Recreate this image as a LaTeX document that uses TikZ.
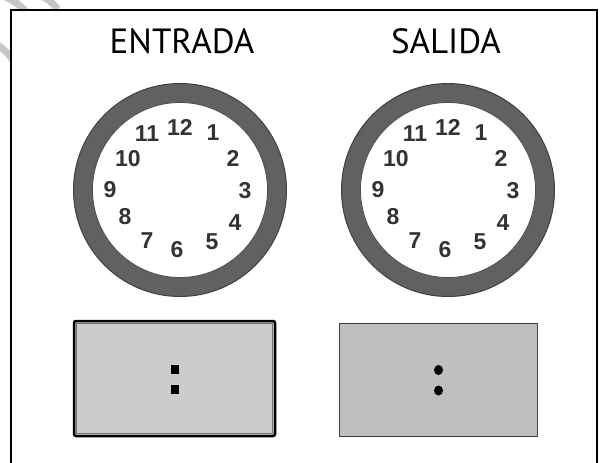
\documentclass[tikz,border=0pt]{standalone}
\usepackage{fontspec}
\setmainfont{PT Sans}
\newfontfamily\digitfont{Liberation Sans}
\usetikzlibrary{shapes.geometric}
\begin{document}
\begin{tikzpicture}[
	x = 1pt, y = -1pt,
	frame/.style = {line width = 2.2pt, black},
	swirl/.style = {line width = 7pt, gray!45},
	title/.style = {anchor = base, inner sep = 0pt, font = \fontsize{35}{40}\selectfont},
	ring/.style = {circle, draw = black!75, line width = 1pt, fill = black!62, minimum size = 213pt, inner sep = 0pt},
	face/.style = {circle, draw = black!70, line width = 0.8pt, fill = white, minimum size = 175pt, inner sep = 0pt},
	hour/.style = {inner sep = 0pt, text = black!80, font = \digitfont\bfseries\fontsize{23}{23}\selectfont},
	inbox/.style = {draw = black, line width = 2.5pt, rounded corners = 2pt, fill = black!20, minimum width = 201pt, minimum height = 115pt, inner sep = 0pt},
	outbox/.style = {draw = black!75, line width = 1.5pt, fill = black!25, minimum width = 198pt, minimum height = 113pt, inner sep = 0pt},
	sqdot/.style = {fill = black, minimum width = 8pt, minimum height = 9pt, inner sep = 0pt},
	rddot/.style = {ellipse, fill = black, minimum width = 9pt, minimum height = 10pt, inner sep = 0pt}
	]
	\useasboundingbox (0,0) rectangle (603,463);
	
	% swirls behind the frame
	\draw[swirl] (4,-4) .. controls (14,1) and (22,6) .. (30,16);
	\draw[swirl] (42,-4) .. controls (49,0) .. (58,9);
	\draw[swirl] (-4,44) .. controls (4,49) and (9,54) .. (15,63);
	\fill[white] (11,10) rectangle (597,470);
	\draw[frame] (11,470) -- (11,10) -- (597,10) -- (597,470);
	
	\node[title] (entradatitle) at (182,53) {ENTRADA};
	\node[title] (salidatitle) at (446,53) {SALIDA};
	
	\begin{scope}[shift={(180,190)}]
	\node[ring] (entradaclock) at (0,0) {};
	\node[face] (entradaface) at (entradaclock.center) {};
	\node[hour] (e12) at (0,-63) {12};
	\node[hour] (e1) at (33,-57) {1};
	\node[hour] (e2) at (53,-32) {2};
	\node[hour] (e3) at (65,1) {3};
	\node[hour] (e4) at (55,33) {4};
	\node[hour] (e5) at (32,52) {5};
	\node[hour] (e6) at (-3,60) {6};
	\node[hour] (e7) at (-33,51) {7};
	\node[hour] (e8) at (-55,27) {8};
	\node[hour] (e9) at (-70,0) {9};
	\node[hour] (e10) at (-52,-31) {10};
	\node[hour] (e11) at (-33,-56) {11};
	\end{scope}
	
	\begin{scope}[shift={(448,190)}]
	\node[ring] (salidaclock) at (0,0) {};
	\node[face] (salidaface) at (salidaclock.center) {};
	\node[hour] (s12) at (0,-63) {12};
	\node[hour] (s1) at (33,-57) {1};
	\node[hour] (s2) at (53,-32) {2};
	\node[hour] (s3) at (65,1) {3};
	\node[hour] (s4) at (55,33) {4};
	\node[hour] (s5) at (32,52) {5};
	\node[hour] (s6) at (-3,60) {6};
	\node[hour] (s7) at (-33,51) {7};
	\node[hour] (s8) at (-55,27) {8};
	\node[hour] (s9) at (-70,0) {9};
	\node[hour] (s10) at (-52,-31) {10};
	\node[hour] (s11) at (-33,-56) {11};
	\end{scope}
	
	\node[inbox] (entradabox) at (174.5,378.5) {};
	\draw[black!55, line width = 1pt] ([shift={(4,4)}]entradabox.north west) rectangle ([shift={(-4,-4)}]entradabox.south east);
	\node[sqdot] (entradatop) at (174.5,369.5) {};
	\node[sqdot] (entradabot) at (174.5,389.5) {};
	
	\node[outbox] (salidabox) at (438.5,380) {};
	\node[rddot] (salidatop) at (438.5,370) {};
	\node[rddot] (salidabot) at (438.5,390.5) {};
\end{tikzpicture}
\end{document}
